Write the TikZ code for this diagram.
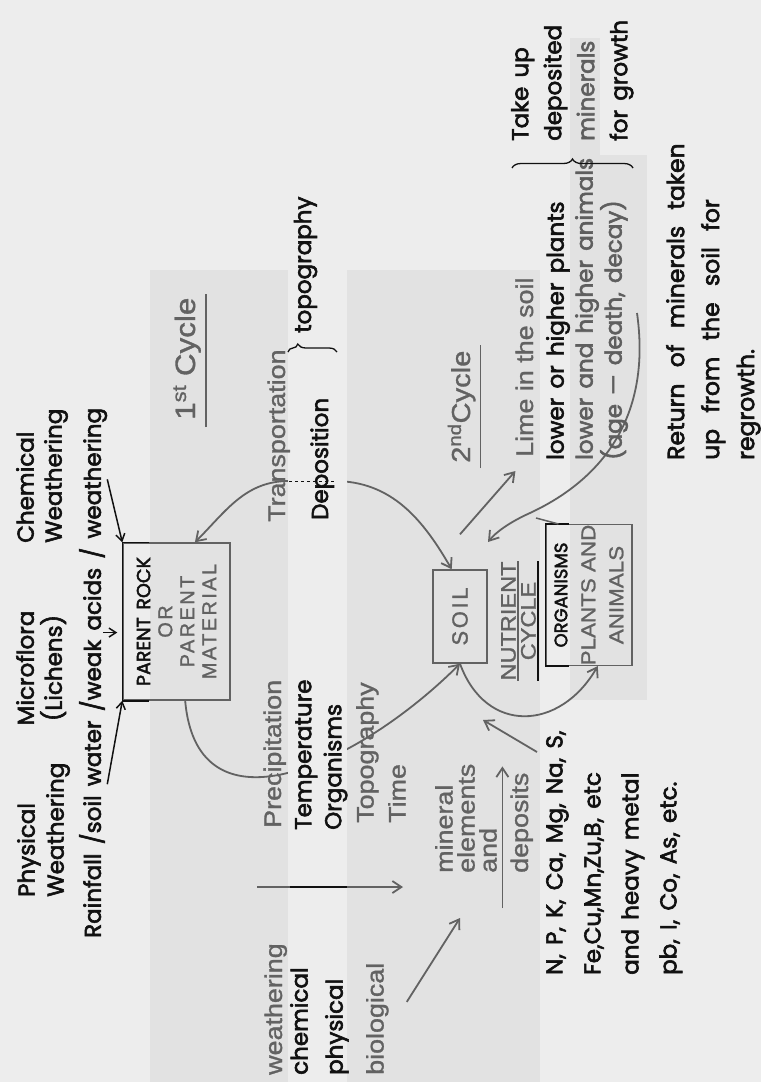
\documentclass[tikz,border=0pt]{standalone}
\usepackage{fontspec}
\usepackage{xcolor}
\usetikzlibrary{arrows.meta, calc, decorations.pathreplacing}
\newfontfamily\handfont[FakeBold=2.5, WordSpace=1.5]{Poppins}
\newfontfamily\handwide[FakeBold=2.6, WordSpace=2.6]{Poppins}
\newfontfamily\printfont[FakeStretch=1.12, FakeBold=1.2]{Liberation Sans}
\newfontfamily\printwide[LetterSpace=12, FakeBold=1.2]{Liberation Sans}
\definecolor{paper}{HTML}{EDEDED}
\definecolor{page}{HTML}{E2E2E2}
\definecolor{ink}{HTML}{111111}
\definecolor{printgray}{HTML}{626262}
\definecolor{handgray}{HTML}{5E5E5E}
\newcommand{\handsz}[2]{\handfont\fontsize{#1}{#2}\selectfont}
\newcommand{\printsz}[2]{\printfont\fontsize{#1}{#2}\selectfont}

\begin{document}
\begin{tikzpicture}[x=1pt, y=-1pt,
    handtext/.style={rotate=90, inner sep=0pt, align=left, text=ink, font=\handsz{23}{29}},
    printtext/.style={rotate=90, inner sep=0pt, align=left, text=printgray, font=\printsz{24}{31}},
    pbox/.style={rotate=90, draw=printgray, line width=1.4pt, inner sep=0pt, align=center, text=printgray},
    harr/.style={draw=ink, line width=1.5pt, -{Straight Barb[length=7pt,width=9pt]}},
    garr/.style={draw=printgray, line width=1.8pt, -{Straight Barb[length=9pt,width=12pt]}},
    gline/.style={draw=printgray, line width=1.5pt}]
    % scanned page
    \fill[paper] (0,0) rectangle (761,1082);
    \fill[page] (150,270) rectangle (540,1082);
    \fill[page] (570,155) rectangle (647,700);
    \fill[page] (570,38) rectangle (600,155);
    \useasboundingbox (0,0) rectangle (761,1082);

    % Weathering agents
    \node[handtext, anchor=north west] (physw) at (17,897) {Physical\\Weathering};
    \node[handtext, anchor=north west] (rain) at (79,938) {Rainfall /soil water /weak acids / weathering};
    \node[handtext, anchor=north, align=center, font=\handsz{23}{28}] (micro) at (16,668) {Microflora\\(Lichens)};
    \node[handtext, anchor=north west, font=\handsz{23}{28}] (chemw) at (16,543) {Chemical\\Weathering};

    % Boxes
    \node[pbox, minimum width=157pt, minimum height=107pt, font=\printwide\fontsize{20}{22}\selectfont] (parent) at (176.5,621.5)
        {{\handsz{19}{22}\color{ink}PARENT ROCK}\\OR\\PARENT\\MATERIAL};
    \draw[ink, line width=1.6pt] ([xshift=27pt]parent.north east) -- (parent.north east) -- (parent.north west) -- ([xshift=27pt]parent.north west);
    \node[pbox, minimum width=93pt, minimum height=54pt, font=\printwide\fontsize{22}{24}\selectfont] (soil) at (460,616.5) {SOIL};
    \node[pbox, minimum width=126pt, minimum height=86pt, font=\printsz{20}{28}] (org) at (589,595)
        {{\handsz{18}{28}\color{ink}ORGANISMS}\\PLANTS AND\\ANIMALS};
    \draw[ink, line width=1.6pt] ([xshift=24pt]org.north east) -- (org.north east) -- (org.north west) -- ([xshift=24pt]org.north west);

    % Arrows into the parent rock
    \draw[harr] ($(rain.south west)!0.29!(rain.south east)$) -- (parent.north west);
    \draw[harr] ($(rain.south west)!0.865!(rain.south east)$) -- (parent.north east);
    \coordinate (acid) at ($(rain.south west)!0.576!(rain.south east)+(-4pt,0)$);
    \draw[harr] (acid) -- ([xshift=-5pt]acid -| parent.north);

    % 1st cycle
    \coordinate (c1a) at (289,481);
    \coordinate (c1b) at (334,481);
    \draw[garr] (c1a) to[out=180, in=45] ($(parent.north east)!0.67!(parent.south east)$);
    \draw[garr] (c1b) to[out=0, in=120] ($(soil.north east)!0.35!(soil.south east)$);
    \draw[garr] ($(parent.north west)!0.58!(parent.south west)$) to[out=275, in=225, looseness=1.3] (soil.west);

    % Nutrient cycle
    \coordinate (rettop) at (637,313);
    \coordinate (junc) at (536,518);
    \draw[garr] (soil.west) to[out=290, in=240, looseness=1.4] ($(org.north west)!0.6!(org.south west)$);
    \draw[garr] (rettop) .. controls (655,440) and (575,492) .. (530,513) .. controls (510,522) and (496,532) .. (488,542);
    \draw[gline] ($(org.north east)!0.15!(org.south east)$) -- (junc);

    % pasted strip
    \fill[paper] (288,270) rectangle (347,1082);

    % Cycle labels
    \node[printtext, anchor=base west, font=\printsz{28}{31}] (cyc1) at (195,420) {1\textsuperscript{st} Cycle};
    \draw[gline] ([shift={(5pt,-7pt)}]cyc1.south west) -- ([shift={(5pt,3pt)}]cyc1.south east);
    \node[printtext, anchor=base west] (transp) at (285,522) {Transportation};
    \node[handtext, anchor=base west] (topo) at (311,333) {topography};
    \draw[ink, line width=1.3pt, decorate, decoration={brace, amplitude=8pt, aspect=0.2}] (288,352) -- (337,352);
    \node[handtext, anchor=base west] (depo) at (328,520) {Deposition};
    \draw[ink, dashed, line width=0.8pt] (c1a) -- (c1b);

    \node[printtext, anchor=base west, font=\printsz{26}{31}] (cyc2) at (470,463) {2\textsuperscript{nd}Cycle};
    \draw[gline] ([shift={(5pt,-5pt)}]cyc2.south west) -- ([shift={(5pt,5pt)}]cyc2.south east);
    \node[printtext, anchor=base west] (lime) at (533,457) {Lime in the soil};
    \draw[garr] ([yshift=35pt]soil.east) -- ([yshift=-14pt]lime.north west);

    \node[printtext, anchor=north, align=center, font=\printsz{21}{20}] (nutr) at (501,621) {NUTRIENT\\CYCLE};
    \draw[gline] ([xshift=-18pt]nutr.south west) -- ([xshift=-18pt]nutr.south east);
    \draw[ink, line width=1.5pt] ([xshift=2pt]nutr.south west) -- ([xshift=2pt]nutr.south east);

    % Soil forming factors
    \node[printtext, anchor=base west] (precip) at (281,828) {Precipitation};
    \node[handtext, anchor=north west, font=\handsz{23}{30}] (tempo) at (295,830) {Temperature\\Organisms};
    \node[printtext, anchor=north west, font=\printsz{24}{32}] (topot) at (356,823) {Topography\\Time};
    \node[printtext, anchor=base west] (weath) at (282,1075) {weathering};
    \node[handtext, anchor=north west, font=\handsz{23}{35}] (chph) at (290,1075) {chemical\\physical};
    \node[printtext, anchor=north west] (bio) at (366,1075) {biological};

    % Mineral elements
    \node[printtext, anchor=north west, font=\printsz{24}{22}] (miner) at (435,873) {mineral\\elements\\and};
    \node[printtext, anchor=base west] (deps) at (528,873) {deposits};
    \draw[garr] ($(deps.north west)+(-8pt,-35pt)$) -- ($(deps.north east)+(-8pt,6pt)$);
    \coordinate (grp) at (257,887);
    \draw[garr] (grp) -- ($(miner.north west)+(-32pt,-14pt)$);
    \draw[ink, line width=1.8pt] (290,887) -- (347,887);
    \draw[garr] ($(bio.south west)!0.65!(bio.south east)+(18pt,0)$) -- ($(miner.north west)+(25pt,-45pt)$);

    \node[handtext, anchor=north west, font=\handsz{23}{38}] (npk) at (546,975)
        {N, P, K, Ca, Mg, Na, S,\\Fe,Cu,Mn,Zu,B, etc\\and heavy metal\\pb, I, Co, As, etc.};
    \coordinate (npkstart) at (537,752);
    \coordinate (npkend) at (483,720);
    \draw[garr] (npkstart) -- (npkend);

    % Plants and animals
    \node[handtext, anchor=north west] (lower) at (546,460)
        {lower or higher plants\\{\color{handgray}lower and higher animals}\\{\color{handgray}(age — death, decay)}};
    \draw[ink, line width=1.3pt, decorate, decoration={brace, amplitude=9pt}] (512,168) -- (633,168);
    \node[handtext, anchor=north west, font=\handsz{23}{33}] (takeup) at (511,141)
        {Take up\\deposited\\{\color{handgray}minerals}\\for growth};
    \node[handtext, anchor=north west, font=\handwide\fontsize{23.5}{35}\selectfont] (retn) at (666,460)
        {Return of minerals taken\\up from the soil for\\regrowth.};
\end{tikzpicture}
\end{document}
